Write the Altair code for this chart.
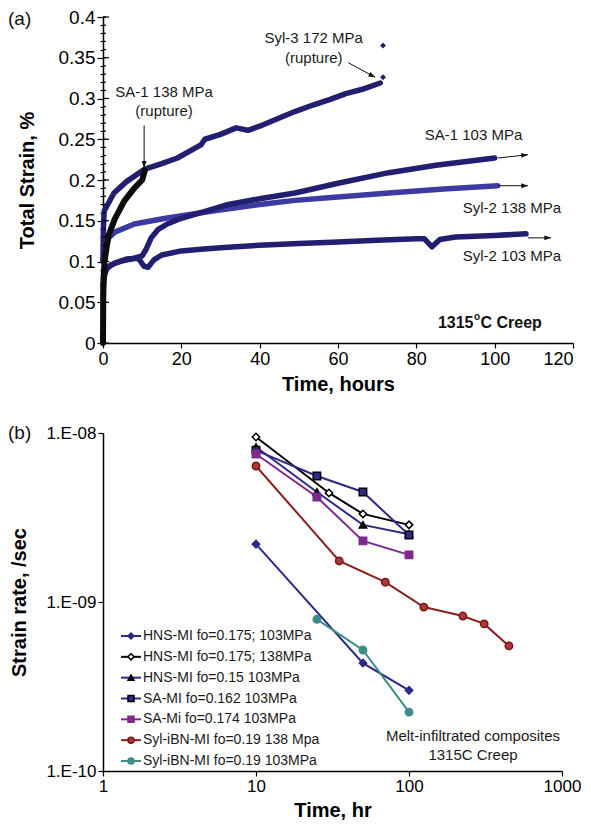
import altair as alt
import pandas as pd

FONT = "Liberation Sans"
NAVY = "#231f70"

# ---------------- Panel (a): total strain vs time ----------------
syl2_138_t = [0, 0.3, 1, 3, 8, 16, 28, 40, 49, 60, 73, 87, 100.8]
syl2_138_s = [0.10, 0.115, 0.127, 0.136, 0.146, 0.153, 0.162, 0.170, 0.175, 0.179, 0.184, 0.189, 0.193]

syl2_103_t = [0, 0.2, 1, 3, 6, 9, 10.5, 11.5, 13, 15, 20, 25, 30, 40, 50, 60, 70, 80, 82, 84, 86, 90, 100, 108]
syl2_103_s = [0.055, 0.08, 0.092, 0.098, 0.103, 0.104, 0.094, 0.093, 0.102, 0.108, 0.113, 0.115, 0.117,
              0.120, 0.122, 0.124, 0.126, 0.128, 0.128, 0.118, 0.127, 0.130, 0.132, 0.134]

sa1_103_t = [0, 0.5, 2, 5, 8, 10, 11, 12.3, 14, 16.4, 20, 25, 32, 40, 49, 60, 73, 85, 100]
sa1_103_s = [0.07, 0.088, 0.096, 0.101, 0.104, 0.107, 0.115, 0.129, 0.139, 0.146, 0.153, 0.160, 0.170,
             0.177, 0.184, 0.196, 0.209, 0.218, 0.227]

syl3_172_t = [0, 0.1, 0.3, 2.8, 6, 10.5, 15, 19, 25, 26, 30, 34, 37, 40, 45, 49, 53.6, 58, 62, 66, 70.8]
syl3_172_s = [0.10, 0.14, 0.162, 0.184, 0.198, 0.213, 0.220, 0.227, 0.243, 0.250, 0.256, 0.264, 0.261,
              0.266, 0.276, 0.284, 0.292, 0.299, 0.306, 0.311, 0.319]

sa1_138_t = [0, 0.05, 0.15, 0.4, 1, 1.5, 3, 5.4, 8, 10, 10.7]
sa1_138_s = [0, 0.05, 0.08, 0.10, 0.12, 0.133, 0.152, 0.174, 0.19, 0.20, 0.212]

rupture_t = [71.5, 71.5]
rupture_s = [0.326, 0.365]

a_series = [
    (syl2_138_t, syl2_138_s, "#3c3ba2", 5.5),
    (syl2_103_t, syl2_103_s, NAVY, 5.5),
    (sa1_103_t, sa1_103_s, NAVY, 5.5),
    (syl3_172_t, syl3_172_s, NAVY, 5.5),
    (sa1_138_t, sa1_138_s, "#0d0d0d", 6),
]

ann_a_text = ["SA-1 138 MPa", "(rupture)", "Syl-3 172 MPa", "(rupture)", "SA-1 103 MPa",
              "Syl-2 138 MPa", "Syl-2 103 MPa"]
ann_a_t = [15.6, 15.6, 53.8, 53.8, 94.6, 104.4, 104.4]
ann_a_s = [0.308, 0.285, 0.374, 0.350, 0.255, 0.166, 0.107]

arr_t1 = [10.5, 62.6, 100.8, 101, 108.5]
arr_s1 = [0.267, 0.344, 0.227, 0.193, 0.129]
arr_t2 = [10.5, 69.5, 108.5, 108.5, 114.4]
arr_s2 = [0.215, 0.326, 0.231, 0.193, 0.129]
arr_ang = [180, 117, 84, 90, 90]

creep_parts = ["1315", "o", "C Creep"]
creep_t = [94.6]
creep_s = [0.025]

panel_labels = ["(a)", "(b)"]

ya_ticks = [round(i * 0.01, 2) for i in range(41)]
ya_major = [round(i * 0.05, 2) for i in range(9)]
xa_ticks = [0, 20, 40, 60, 80, 100, 120]

major_test = "abs(datum.value*20 - round(datum.value*20)) < 0.001"
axis_ya = alt.Axis(values=ya_ticks,
                   labelExpr=major_test + " ? format(datum.value, '.2~f') : ''",
                   tickSize={"condition": {"test": major_test, "value": 6}, "value": 3},
                   labelOverlap=False, labelFontSize=19, labelPadding=2,
                   titleFontSize=20, titleFontWeight="bold", titlePadding=21)
axis_xa = alt.Axis(values=xa_ticks, format="d", labelFontSize=18, tickSize=5, labelFlush=False,
                   labelAlign={"condition": {"test": "datum.value == 120", "value": "right"}, "value": "center"},
                   titleFontSize=20, titleFontWeight="bold", titlePadding=6)


def xa(field="t"):
    return alt.X(f"{field}:Q", scale=alt.Scale(domain=[0, 120], nice=False), axis=axis_xa, title="Time, hours")


def ya(field="s"):
    return alt.Y(f"{field}:Q", scale=alt.Scale(domain=[0, 0.4], nice=False), axis=axis_ya, title="Total Strain, %")


a_layers = []
for tt, ss, col, w in a_series:
    df = pd.DataFrame({"t": tt, "s": ss})
    a_layers.append(alt.Chart(df).mark_line(color=col, strokeWidth=w, strokeCap="round",
                                            strokeJoin="round").encode(x=xa(), y=ya()))

a_layers.append(alt.Chart(pd.DataFrame({"t": rupture_t, "s": rupture_s})).mark_point(
    shape="diamond", filled=True, size=35, color=NAVY, opacity=1).encode(x=xa(), y=ya()))

a_layers.append(alt.Chart(pd.DataFrame({"t": ann_a_t, "s": ann_a_s, "txt": ann_a_text})).mark_text(
    fontSize=15, color="#1a1a1a", align="center", baseline="middle").encode(x=xa(), y=ya(), text="txt:N"))

arr_df = pd.DataFrame({"t": arr_t1, "s": arr_s1, "t2": arr_t2, "s2": arr_s2})
a_layers.append(alt.Chart(arr_df).mark_rule(color="#111", strokeWidth=1).encode(
    x=xa(), y=ya(), x2="t2:Q", y2="s2:Q"))

head_df = pd.DataFrame({"t": arr_t2, "s": arr_s2, "ang": arr_ang})
a_layers.append(alt.Chart(head_df).mark_point(
    shape="M0,0L0.4,1.1L-0.4,1.1Z", filled=True, size=150, color="#111", opacity=1).encode(
    x=xa(), y=ya(), angle=alt.Angle("ang:Q", scale=None)))

# inner halves of the y-axis ticks (the reference ticks cross the axis line)
a_layers.append(alt.Chart(pd.DataFrame({"s": ya_ticks})).mark_rule(color="black", strokeWidth=1.2).encode(
    y=ya(), x=alt.value(0), x2=alt.value(3)))
a_layers.append(alt.Chart(pd.DataFrame({"s": ya_major})).mark_rule(color="black", strokeWidth=1.2).encode(
    y=ya(), x=alt.value(0), x2=alt.value(6)))

creep_df = pd.DataFrame({"t": creep_t, "s": creep_s, "p0": [creep_parts[0]], "p1": [creep_parts[1]],
                         "p2": [creep_parts[2]]})
a_layers.append(alt.Chart(creep_df).mark_text(fontSize=16, fontWeight="bold", align="right",
                                              baseline="middle", color="#111").encode(x=xa(), y=ya(), text="p0:N"))
a_layers.append(alt.Chart(creep_df).mark_text(fontSize=10, fontWeight="bold", align="left",
                                              baseline="middle", dx=0.5, dy=-6, color="#111").encode(
    x=xa(), y=ya(), text="p1:N"))
a_layers.append(alt.Chart(creep_df).mark_text(fontSize=16, fontWeight="bold", align="left",
                                              baseline="middle", dx=7, color="#111").encode(
    x=xa(), y=ya(), text="p2:N"))

a_layers.append(alt.Chart(pd.DataFrame({"lab": [panel_labels[0]]})).mark_text(
    fontSize=19, align="left", baseline="middle", color="#111").encode(
    x=alt.value(-95), y=alt.value(2), text="lab:N"))

top = alt.layer(*a_layers).properties(width=470, height=326)

# ---------------- Panel (b): strain rate vs time ----------------
b_names = ["HNS-MI fo=0.175; 103MPa", "HNS-MI fo=0.175; 138MPa", "HNS-MI fo=0.15 103MPa",
           "SA-MI fo=0.162 103MPa", "SA-Mi fo=0.174 103MPa", "Syl-iBN-MI fo=0.19 138 Mpa",
           "Syl-iBN-MI fo=0.19 103MPa"]
hns175_103_t = [10, 50, 100]
hns175_103_r = [2.2e-9, 4.35e-10, 3.0e-10]
hns175_138_t = [10, 30, 50, 100]
hns175_138_r = [9.47e-9, 4.42e-9, 3.32e-9, 2.86e-9]
hns15_103_t = [10, 25, 50, 100]
hns15_103_r = [8.26e-9, 4.48e-9, 2.86e-9, 2.52e-9]
sa162_103_t = [10, 25, 50, 100]
sa162_103_r = [7.9e-9, 5.57e-9, 4.48e-9, 2.49e-9]
sa174_103_t = [10, 25, 50, 100]
sa174_103_r = [7.51e-9, 4.18e-9, 2.30e-9, 1.90e-9]
syl19_138_t = [10, 35, 70, 125, 225, 310, 450]
syl19_138_r = [6.38e-9, 1.75e-9, 1.31e-9, 9.33e-10, 8.26e-10, 7.42e-10, 5.5e-10]
syl19_103_t = [25, 50, 100]
syl19_103_r = [7.9e-10, 5.2e-10, 2.23e-10]

b_t = [hns175_103_t, hns175_138_t, hns15_103_t, sa162_103_t, sa174_103_t, syl19_138_t, syl19_103_t]
b_r = [hns175_103_r, hns175_138_r, hns15_103_r, sa162_103_r, sa174_103_r, syl19_138_r, syl19_103_r]

b_line_colors = ["#2b2a85", "#000000", "#2b2a85", "#2b2a85", "#7d2a8c", "#8a1f1f", "#3d8c8a"]
b_shapes = ["diamond", "diamond", "triangle-up", "square", "square", "circle", "circle"]
b_fills = ["#2b2a85", "#ffffff", "#000000", "#2b2a85", "#7d2a8c", "#a83a3a", "#3d8c8a"]
b_strokes = ["#2b2a85", "#000000", "#000000", "#000000", "#7d2a8c", "#7a1515", "#3d8c8a"]

ann_b_text = ["Melt-infiltrated composites", "1315C Creep"]
ann_b_t = [262, 262]
ann_b_r = [1.61e-10, 1.24e-10]

rows = []
for n, tt, rr in zip(b_names, b_t, b_r):
    for t, r in zip(tt, rr):
        rows.append({"series": n, "t": t, "r": r})
df_b = pd.DataFrame(rows)

axis_yb = alt.Axis(values=[1e-10, 1e-9, 1e-8],
                   labelExpr="'1.E-' + format(-round(log(datum.value)/LN10), '02d')",
                   labelFontSize=17, tickSize=5, labelPadding=2,
                   titleFontSize=20, titleFontWeight="bold", titlePadding=16)
axis_xb = alt.Axis(values=[1, 10, 100, 1000], format="d", labelFontSize=17, tickSize=5, labelFlush=False,
                   titleFontSize=20, titleFontWeight="bold", titlePadding=6)


def xb(field="t"):
    return alt.X(f"{field}:Q", scale=alt.Scale(type="log", domain=[1, 1000], nice=False),
                 axis=axis_xb, title="Time, hr")


def yb(field="r"):
    return alt.Y(f"{field}:Q", scale=alt.Scale(type="log", domain=[1e-10, 1e-8], nice=False),
                 axis=axis_yb, title="Strain rate, /sec")


col_scale = alt.Scale(domain=b_names, range=b_line_colors)
shape_scale = alt.Scale(domain=b_names, range=b_shapes)
fill_scale = alt.Scale(domain=b_names, range=b_fills)
stroke_scale = alt.Scale(domain=b_names, range=b_strokes)

b_lines = alt.Chart(df_b).mark_line(strokeWidth=2).encode(
    x=xb(), y=yb(), color=alt.Color("series:N", scale=col_scale, legend=None), detail="series:N")
b_points = alt.Chart(df_b).mark_point(size=55, strokeWidth=1.5, opacity=1).encode(
    x=xb(), y=yb(),
    shape=alt.Shape("series:N", scale=shape_scale, legend=None),
    fill=alt.Fill("series:N", scale=fill_scale, legend=None),
    stroke=alt.Stroke("series:N", scale=stroke_scale, legend=None))
b_text = alt.Chart(pd.DataFrame({"t": ann_b_t, "r": ann_b_r, "txt": ann_b_text})).mark_text(
    fontSize=15, color="#1a1a1a", align="center", baseline="middle").encode(x=xb(), y=yb(), text="txt:N")
b_label = alt.Chart(pd.DataFrame({"lab": [panel_labels[1]]})).mark_text(
    fontSize=19, align="left", baseline="middle", color="#111").encode(
    x=alt.value(-95), y=alt.value(0), text="lab:N")

main_b = alt.layer(b_lines, b_points, b_text, b_label)

leg_df = pd.DataFrame({"series": b_names})
leg_y = alt.Y("series:N", scale=alt.Scale(type="point", domain=b_names, range=[203, 328], padding=0), axis=None)
leg_rule = alt.Chart(leg_df).mark_rule(strokeWidth=2).encode(
    x=alt.value(18), x2=alt.value(38), y=leg_y,
    color=alt.Color("series:N", scale=col_scale, legend=None))
leg_pts = alt.Chart(leg_df).mark_point(size=36, strokeWidth=1.5, opacity=1).encode(
    x=alt.value(28), y=leg_y,
    shape=alt.Shape("series:N", scale=shape_scale, legend=None),
    fill=alt.Fill("series:N", scale=fill_scale, legend=None),
    stroke=alt.Stroke("series:N", scale=stroke_scale, legend=None))
leg_txt = alt.Chart(leg_df).mark_text(fontSize=14, align="left", baseline="middle", color="#1a1a1a").encode(
    x=alt.value(40), y=leg_y, text="series:N")
legend_b = alt.layer(leg_rule, leg_pts, leg_txt)

bottom = alt.layer(main_b, legend_b).resolve_scale(
    y="independent", color="independent", shape="independent", fill="independent", stroke="independent"
).properties(width=459, height=338)

chart = alt.vconcat(top, bottom, spacing=30).properties(
    padding={"left": 0, "top": 0, "right": 0, "bottom": 0}
).configure(font=FONT).configure_view(stroke=None).configure_axis(
    grid=False, domainColor="black", tickColor="black", labelColor="black", titleColor="black",
    labelFont=FONT, titleFont=FONT, domainWidth=1.5, tickWidth=1.2
)

chart.save("out.html", embed_options={"renderer": "svg", "actions": False})
